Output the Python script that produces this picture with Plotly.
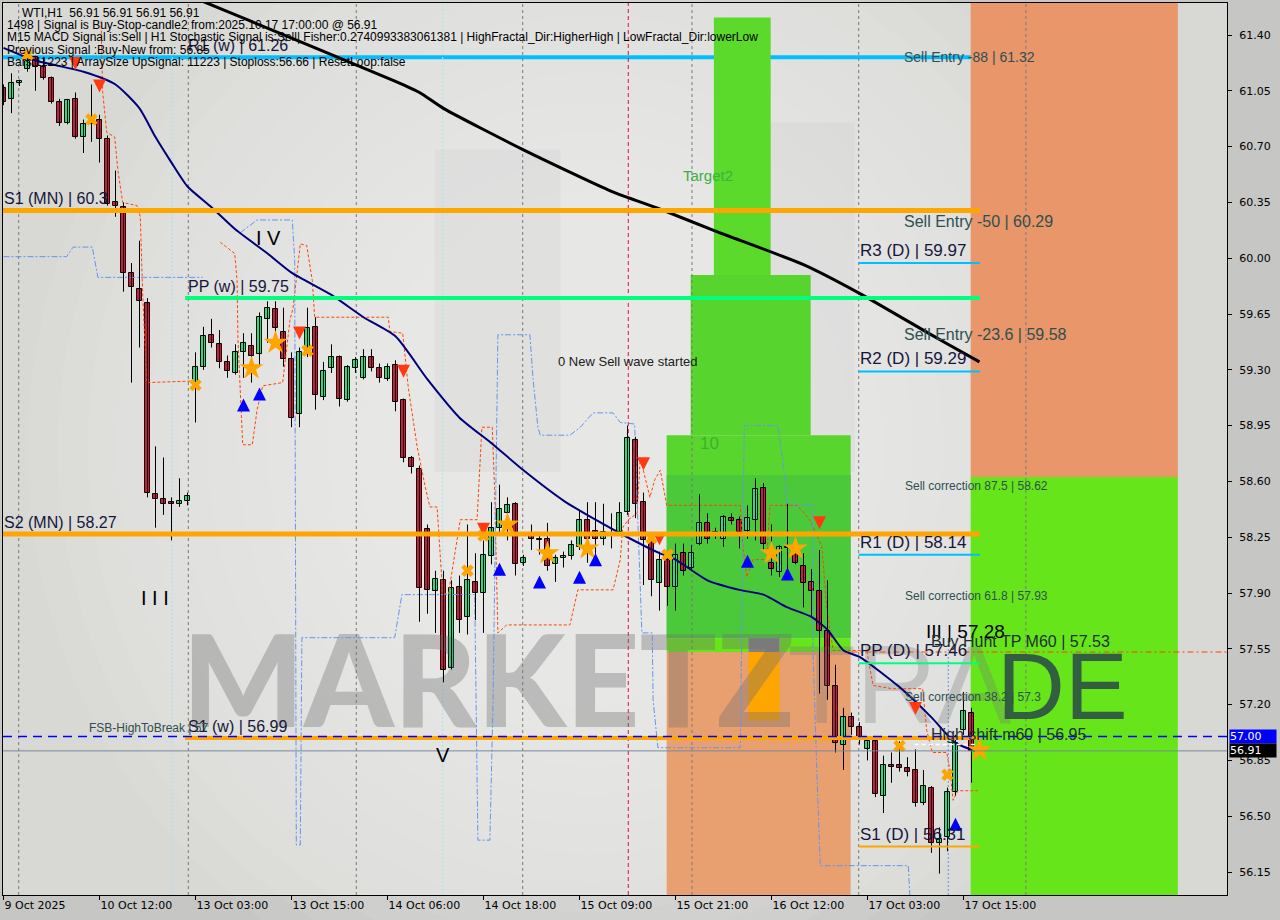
import plotly.graph_objects as go

# ---------------- data ----------------
opens = [61.07, 61.00, 61.10, 61.19, 61.26, 61.20, 61.13, 60.98, 60.85, 61.00,
         60.76, 60.86, 60.87, 60.75, 60.35, 60.32, 59.91, 59.81, 59.72, 58.52,
         58.49, 58.47, 58.46, 58.48, 59.22, 59.32, 59.52, 59.46, 59.35, 59.28,
         59.41, 59.45, 59.40, 59.62, 59.68, 59.54, 59.37, 59.02, 59.41, 59.57,
         59.13, 59.31, 59.38, 59.11, 59.31, 59.25, 59.38, 59.31, 59.24, 59.33,
         59.11, 58.75, 58.68, 58.30, 57.91, 57.98, 57.43, 57.94, 57.75, 57.97,
         57.90, 58.13, 58.31, 58.40, 58.46, 58.09, 58.26, 58.24, 58.24, 58.08,
         58.12, 58.13, 58.19, 58.36, 58.29, 58.24, 58.26, 58.28, 58.41, 58.86,
         58.47, 58.22, 57.96, 58.11, 57.94, 58.15, 58.06, 58.21, 58.34, 58.28,
         58.24, 58.37, 58.36, 58.29, 58.36, 58.56, 58.09, 58.03, 58.19, 58.15,
         58.07, 57.97, 57.91, 57.66, 57.32, 56.95, 57.12, 57.06, 56.92, 56.97,
         56.63, 56.82, 56.82, 56.80, 56.79, 56.58, 56.68, 56.33, 56.37, 56.65,
         57.04, 57.15, 56.91]
highs = [61.09, 61.16, 61.12, 61.29, 61.27, 61.26, 61.14, 61.00, 61.00, 61.04,
         60.87, 61.09, 60.90, 60.77, 60.55, 60.35, 59.97, 60.11, 59.75, 58.82,
         58.75, 58.50, 58.62, 58.53, 59.41, 59.57, 59.62, 59.55, 59.39, 59.46,
         59.53, 59.53, 59.66, 59.73, 59.73, 59.69, 59.41, 59.44, 59.69, 59.63,
         59.35, 59.46, 59.39, 59.33, 59.38, 59.43, 59.43, 59.34, 59.34, 59.36,
         59.12, 58.76, 58.70, 58.33, 58.04, 58.04, 57.98, 58.01, 58.33, 58.15,
         58.23, 58.47, 58.58, 58.50, 58.47, 58.14, 58.33, 58.26, 58.34, 58.14,
         58.16, 58.23, 58.42, 58.47, 58.47, 58.46, 58.40, 58.47, 58.95, 58.88,
         58.53, 58.23, 58.16, 58.14, 58.21, 58.21, 58.20, 58.52, 58.40, 58.31,
         58.39, 58.40, 58.38, 58.45, 58.62, 58.59, 58.33, 58.20, 58.46, 58.18,
         58.15, 58.05, 58.17, 57.98, 57.45, 57.18, 57.15, 57.09, 56.97, 56.99,
         56.88, 56.90, 56.97, 56.87, 56.92, 56.79, 56.69, 56.43, 56.68, 57.01,
         57.28, 57.18, 56.91]
lows = [60.96, 60.91, 61.08, 61.17, 61.05, 61.12, 60.97, 60.83, 60.84, 60.75,
        60.66, 60.73, 60.60, 60.33, 60.26, 59.79, 59.22, 59.44, 58.50, 58.31,
        58.39, 58.23, 58.44, 58.45, 58.97, 59.30, 59.44, 59.31, 59.25, 59.27,
        59.25, 59.22, 59.33, 59.47, 59.47, 59.32, 58.94, 58.94, 59.38, 59.05,
        59.11, 59.28, 59.07, 59.10, 59.28, 59.24, 59.29, 59.22, 59.23, 59.04,
        58.72, 58.65, 57.72, 57.77, 57.65, 57.34, 57.42, 57.65, 57.64, 57.73,
        57.65, 58.08, 58.28, 58.23, 58.01, 58.07, 58.17, 58.14, 58.04, 57.97,
        58.06, 58.11, 58.17, 58.09, 58.14, 58.20, 58.18, 58.26, 58.39, 58.37,
        57.95, 57.88, 57.79, 57.82, 57.79, 58.01, 58.04, 58.20, 58.21, 58.24,
        58.19, 58.33, 58.18, 58.24, 58.23, 58.17, 58.01, 58.00, 58.00, 58.08,
        57.81, 57.75, 57.27, 57.23, 56.90, 56.79, 57.01, 56.95, 56.85, 56.62,
        56.52, 56.71, 56.78, 56.75, 56.56, 56.57, 56.27, 56.14, 56.28, 56.63,
        57.01, 56.71, 56.91]
closes = [60.98, 61.10, 61.11, 61.24, 61.20, 61.13, 60.98, 60.85, 60.99, 60.76,
          60.84, 60.84, 60.75, 60.34, 60.33, 59.91, 59.82, 59.73, 58.53, 58.49,
          58.46, 58.46, 58.48, 58.51, 59.32, 59.51, 59.47, 59.35, 59.29, 59.41,
          59.47, 59.39, 59.63, 59.69, 59.56, 59.37, 59.00, 59.41, 59.56, 59.14,
          59.29, 59.38, 59.12, 59.32, 59.36, 59.38, 59.31, 59.25, 59.32, 59.10,
          58.75, 58.69, 57.93, 57.92, 57.99, 57.42, 57.93, 57.73, 57.98, 57.90,
          58.14, 58.31, 58.43, 58.45, 58.08, 58.12, 58.24, 58.23, 58.07, 58.12,
          58.13, 58.20, 58.36, 58.24, 58.24, 58.28, 58.27, 58.40, 58.87, 58.46,
          58.23, 57.98, 58.11, 57.94, 58.14, 58.04, 58.15, 58.34, 58.24, 58.27,
          58.38, 58.35, 58.28, 58.37, 58.55, 58.21, 58.05, 58.19, 58.18, 58.09,
          57.96, 57.91, 57.66, 57.32, 56.96, 57.12, 57.06, 57.00, 56.97, 56.64,
          56.82, 56.81, 56.80, 56.78, 56.58, 56.69, 56.33, 56.36, 56.65, 56.96,
          57.16, 56.91, 56.91]

time_tick_idx = [0, 12, 24, 36, 48, 60, 72, 84, 96, 108, 120]
time_tick_text = ["9 Oct 2025", "10 Oct 12:00", "13 Oct 03:00", "13 Oct 15:00",
                  "14 Oct 06:00", "14 Oct 18:00", "15 Oct 09:00", "15 Oct 21:00",
                  "16 Oct 12:00", "17 Oct 03:00", "17 Oct 15:00"]
price_ticks = [56.15, 56.50, 56.85, 57.20, 57.55, 57.90, 58.25, 58.60, 58.95,
               59.30, 59.65, 60.00, 60.35, 60.70, 61.05, 61.40]

# moving averages (knots)
fast_ma_idx = [0, 4, 10, 14, 17, 19, 21, 23, 26, 29, 33, 36, 41, 45, 49, 53, 57, 61,
               65, 70, 74, 78, 82, 84, 88, 92, 95, 98, 101, 103, 105, 107, 112, 116, 119, 122]
fast_ma = [61.32, 61.24, 61.17, 61.09, 60.94, 60.76, 60.60, 60.45, 60.32, 60.18, 60.03,
           59.91, 59.77, 59.63, 59.51, 59.24, 59.00, 58.84, 58.67, 58.48, 58.36, 58.25,
           58.15, 58.11, 57.98, 57.92, 57.89, 57.81, 57.75, 57.67, 57.54, 57.50, 57.31,
           57.12, 56.96, 56.90]
slow_ma_idx = [20, 24, 37, 49, 52, 55, 65, 76, 82, 89, 100, 107, 117, 122]
slow_ma = [61.71, 61.63, 61.36, 61.11, 61.04, 60.94, 60.68, 60.42, 60.31, 60.17,
           59.96, 59.78, 59.49, 59.35]

# stepped channel lines
red_step_idx = [12.2, 12.4, 12.9, 13.9, 14.3, 14.9, 16.7, 17.1, 17.4, 17.9, 23.7, None,
                27.1, 28.9, 29.2, 29.3, 29.9, 31.1, 31.7, 32.4, 34.9, 35.4, 35.8, 36.2,
                37.1, 37.9, 38.6, 38.9, 48.1, 48.3, 49.9, 50.6, 51.7, 52.7, 53.3, 54.2,
                54.9, 55.6, 57.1, 59.2, 59.8, 61.1, 61.4, 61.8, 62.9, 70.8, 71.8, 76.2,
                77.1, 77.4, 78.1, 79.2, 79.6, 80.8, 81.4, 82.1, 82.9, 92.1, 92.4, 92.9,
                93.7, 95.4, 95.8, 99.2, 100.8, 102.3, 102.9, 103.7, 107.9, 108.7, 111.1,
                114.9, 115.4, 116.1, 117.9, 118.3, 118.7, 119.3, 121.8]
red_step = [61.49, 61.04, 60.79, 60.76, 60.55, 60.35, 60.33, 60.26, 59.78, 59.22, 59.23, None,
            60.10, 60.03, 59.86, 59.50, 58.83, 58.83, 59.05, 59.20, 59.22, 59.42, 59.61, 59.69,
            60.09, 60.08, 59.86, 59.63, 59.63, 59.54, 59.53, 59.19, 58.82, 58.57, 58.44, 58.44,
            57.90, 57.89, 58.36, 58.36, 58.94, 58.94, 58.53, 57.65, 57.70, 57.70, 57.92, 57.92,
            58.11, 58.31, 58.36, 58.40, 58.75, 58.50, 58.61, 58.67, 58.45, 58.45, 58.21, 58.00,
            58.11, 58.11, 58.45, 58.45, 58.36, 58.19, 57.81, 57.54, 57.54, 57.32, 57.30,
            57.30, 57.04, 56.90, 56.90, 56.79, 56.60, 56.66, 56.66]
blue_step_idx = [0, 7.9, 8.7, 11.1, 11.8, 24.9, None,
                 29.6, 31.7, 36.1, 36.4, 36.6, 37.1, 37.3, 48.9, 49.8, 58.9, 59.3, 60.8,
                 61.2, 61.7, 61.8, 65.8, 66.2, 66.8, 67.1, 70.8, 72.1, 73.7, 76.2, 77.1,
                 78.9, 79.2, 79.8, 81.1, 81.2, 81.8, 92.1, 92.6, 96.8, 97.7, 97.9, 101.1,
                 101.2, 101.7, 102.1, 113.1, 113.3]
blue_step = [60.01, 60.01, 60.07, 60.07, 59.88, 59.88, None,
             60.16, 60.24, 60.24, 59.99, 56.32, 56.32, 57.62, 57.62, 57.89, 57.89, 56.35, 56.35,
             57.23, 58.94, 59.52, 59.52, 59.24, 58.94, 58.89, 58.89, 58.94, 59.03, 59.03, 58.97,
             58.96, 58.48, 57.65, 57.65, 57.23, 56.93, 56.93, 58.95, 58.95, 58.61, 58.46, 58.45,
             57.52, 56.73, 56.19, 56.19, 56.00]

# signal markers
star_idx = [31, 34, 63, 68, 73, 96, 99, 122]
star_px = [59.31, 59.47, 58.33, 58.15, 58.18, 58.15, 58.18, 56.915]
cross_idx = [3, 11, 24, 38, 58, 60, 81, 83, 112, 118]
cross_px = [61.275, 60.87, 59.205, 59.42, 58.04, 58.26, 58.245, 58.14, 56.94, 56.76]
sell_arrow_idx = [9, 12, 37, 50, 60, 80, 82, 102, 114]
sell_arrow_px = [61.18, 61.04, 59.49, 59.25, 58.26, 58.67, 58.20, 58.30, 57.135]
buy_arrow_idx = [30, 32, 62, 67, 72, 74, 93, 98, 119]
buy_arrow_px = [59.12, 59.19, 58.09, 58.01, 58.04, 58.15, 58.14, 58.06, 56.49]

# pivot / signal levels
level_r1_w, level_pp_w, level_s1_w = 61.26, 59.75, 56.99
level_s1_mn, level_s2_mn = 60.30, 58.27
level_r3_d, level_r2_d, level_r1_d, level_pp_d, level_s1_d = 59.97, 59.29, 58.14, 57.46, 56.31
sell_entry_levels = [61.32, 60.29, 59.58]
sell_entry_text = ["Sell Entry -88 | 61.32", "Sell Entry -50 | 60.29", "Sell Entry -23.6 | 59.58"]
sell_corr_levels = [58.62, 57.93, 57.30]
sell_corr_text = ["Sell correction 87.5 | 58.62", "Sell correction 61.8 | 57.93",
                  "Sell correction 38.2 | 57.3"]
buy_hunt_tp = 57.53
high_shift = 56.95
fsb_high = 57.00
last_price = 56.91

header_lines = [
    "WTI,H1  56.91 56.91 56.91 56.91",
    "1498 | Signal is Buy-Stop-candle2 from:2025.10.17 17:00:00 @ 56.91",
    "M15 MACD Signal is:Sell | H1 Stochastic Signal is:Sell| Fisher:0.2740993383061381 | HighFractal_Dir:HigherHigh | LowFractal_Dir:lowerLow",
    "Previous Signal :Buy-New from: 56.85",
    "Bars:11223 | ArraySize UpSignal: 11223 | Stoploss:56.66 | ResetLoop:false",
]

# ---------------- figure ----------------
UP = "#1AE67A"
DN = "#DC143C"
X_MIN, X_MAX = -0.0625, 152.94
Y_MIN, Y_MAX = 56.006, 61.601
LEVEL_END = 122.06
TXT = "#16163a"
FONT = "Liberation Sans, Arial, sans-serif"

idx = list(range(len(opens)))
MIN_BODY = 0.006
body_base, body_h, body_col = [], [], []
for o, c in zip(opens, closes):
    d = abs(c - o)
    h = max(d, MIN_BODY)
    body_base.append(min(o, c) - (h - d) / 2)
    body_h.append(h)
    body_col.append(UP if c >= o else DN)

wick_x, wick_y = [], []
for i, h, l in zip(idx, highs, lows):
    wick_x += [i, i, None]
    wick_y += [l, h, None]

fig = go.Figure()

# watermark (drawn first so it sits under the candles)
fig.add_trace(go.Scatter(x=[60.6], y=[57.26], mode="text", text=["MARKETZ"],
                         textposition="middle center", hoverinfo="skip",
                         textfont=dict(size=128, color="rgba(110,110,110,0.36)",
                                       family="Lato, Liberation Sans, sans-serif",
                                       weight=900)))
fig.add_trace(go.Scatter(x=[98.0], y=[57.26], mode="text", text=["TRA"],
                         textposition="middle right", hoverinfo="skip",
                         textfont=dict(size=112, color="rgba(120,120,120,0.30)", family=FONT)))
fig.add_trace(go.Scatter(x=[124.2], y=[57.26], mode="text", text=["DE"],
                         textposition="middle right", hoverinfo="skip",
                         textfont=dict(size=94, color="rgba(40,70,70,0.85)", family=FONT)))

# stepped channel lines
fig.add_trace(go.Scatter(x=red_step_idx, y=red_step, mode="lines", hoverinfo="skip",
                         line=dict(color="#FF4500", width=1, dash="3px,2px")))
fig.add_trace(go.Scatter(x=blue_step_idx, y=blue_step, mode="lines", hoverinfo="skip",
                         line=dict(color="#6495ED", width=1, dash="6px,2px,2px,2px")))

# candles
fig.add_trace(go.Scatter(x=wick_x, y=wick_y, mode="lines", hoverinfo="skip",
                         line=dict(color="black", width=1)))
fig.add_trace(go.Bar(x=idx, y=body_h, base=body_base, width=0.66, hoverinfo="skip",
                     marker=dict(color=body_col, line=dict(color="black", width=1))))

# moving averages
fig.add_trace(go.Scatter(x=fast_ma_idx, y=fast_ma, mode="lines", hoverinfo="skip",
                         line=dict(color="#00007A", width=2, shape="spline", smoothing=0.6)))
fig.add_trace(go.Scatter(x=slow_ma_idx, y=slow_ma, mode="lines", hoverinfo="skip",
                         line=dict(color="black", width=3, shape="spline", smoothing=0.6)))

# markers
fig.add_trace(go.Scatter(x=star_idx, y=star_px, mode="markers", hoverinfo="skip",
                         marker=dict(symbol="star", size=18, color="#FFA500", line=dict(width=0))))
fig.add_trace(go.Scatter(x=cross_idx, y=cross_px, mode="markers", hoverinfo="skip",
                         marker=dict(symbol="x", size=11, color="#FFA500", line=dict(width=0))))
fig.add_trace(go.Scatter(x=sell_arrow_idx, y=sell_arrow_px, mode="markers", hoverinfo="skip",
                         marker=dict(symbol="arrow-down", size=13, color="#FF3A10", line=dict(width=0))))
fig.add_trace(go.Scatter(x=buy_arrow_idx, y=buy_arrow_px, mode="markers", hoverinfo="skip",
                         marker=dict(symbol="arrow-up", size=13, color="#0000FF", line=dict(width=0))))

# ---------------- shapes ----------------
shapes = []


def rect(x0, x1, y0, y1, color, layer="below", opacity=1.0):
    shapes.append(dict(type="rect", xref="x", yref="y", x0=x0, x1=x1, y0=y0, y1=y1,
                       fillcolor=color, opacity=opacity, line=dict(width=0), layer=layer))


def hline(y, x0, x1, color, width, dash="solid", layer="above"):
    shapes.append(dict(type="line", xref="x", yref="y", x0=x0, x1=x1, y0=y, y1=y,
                       line=dict(color=color, width=width, dash=dash), layer=layer))


def vline(x, color, dash, y0=Y_MIN, y1=Y_MAX, width=1):
    shapes.append(dict(type="line", xref="x", yref="y", x0=x, x1=x, y0=y0, y1=y1,
                       line=dict(color=color, width=width, dash=dash), layer="below"))


# soft radial light in the middle of the chart (many faint layers -> smooth)
n_glow = 12
for k in range(n_glow):
    f = k / (n_glow - 1)
    shapes.append(dict(type="circle", xref="paper", yref="paper",
                       x0=0.02 + 0.27 * f, x1=0.94 - 0.27 * f,
                       y0=-0.15 + 0.36 * f, y1=1.15 - 0.36 * f,
                       fillcolor="white", opacity=0.06, line=dict(width=0), layer="below"))

# faint logo blocks
rect(53.9, 69.6, 58.66, 60.68, "rgba(170,170,170,0.11)")
rect(91.1, 106.4, 58.66, 60.85, "rgba(170,170,170,0.11)")

# R1 (w) line sits under the zone boxes
hline(level_r1_w, X_MIN, LEVEL_END, "#00BFFF", 4, layer="below")

# zone boxes
rect(88.8, 95.9, 59.895, 61.51, "#5CDA2B")
rect(85.9, 100.9, 58.89, 59.895, "#57D52E")
rect(82.9, 105.9, 57.617, 58.89, "#58D62D")
rect(82.9, 105.9, 57.617, 58.64, "#4BC93B")
rect(82.9, 93.1, 57.53, 57.617, "#66E619")
rect(97.0, 105.9, 57.53, 57.617, "#66E619")
rect(93.1, 97.0, 57.53, 57.617, "#808080")
rect(82.9, 105.9, 55.9, 57.53, "#E8A070")
rect(93.1, 97.0, 57.10, 57.53, "#FFA500")
rect(120.9, 146.8, 58.628, 61.8, "#E8966A")
rect(120.9, 146.8, 55.9, 58.628, "#66E61A")

# vertical separators
for sx in [1.9, 23.1, 44.1, 64.9, 86.06, 106.9, 127.8]:
    vline(sx, "#7a7a7a", "3px,3px")
for sx in [21.1, 54.9]:
    vline(sx, "#A8E4EE", "2px,2px")
vline(78.1, "#DC143C", "4px,3px")
vline(118.1, "#6495ED", "2px,2px", y0=Y_MIN, y1=57.6)

# pivot lines
hline(level_s1_mn, X_MIN, LEVEL_END, "#FFA500", 5)
hline(level_s2_mn, X_MIN, LEVEL_END, "#FFA500", 5)
hline(level_pp_w, 22.7, LEVEL_END, "#00FF7F", 4)
hline(level_s1_w, 22.7, LEVEL_END, "#FFA500", 4)
for lv in [level_r3_d, level_r2_d, level_r1_d]:
    hline(lv, 106.9, LEVEL_END, "#00BFFF", 2)
hline(level_pp_d, 106.9, LEVEL_END, "#00FF7F", 2)
hline(level_s1_d, 106.9, LEVEL_END, "#FFA500", 2)
hline(buy_hunt_tp, 106.0, X_MAX, "#FF4500", 1, dash="6px,3px,2px,3px")
hline(high_shift, 113.9, 121.5, "white", 1.5, dash="4px,3px")
hline(fsb_high, X_MIN, X_MAX, "#0000FF", 1.5, dash="9px,6px")
hline(last_price, X_MIN, X_MAX, "#778899", 1)

# ---------------- annotations ----------------
ann = []


def label(text, x, y, size, color=TXT, yanchor="bottom", xanchor="left", yshift=0, family=FONT):
    ann.append(dict(text=text, x=x, y=y, xref="x", yref="y", showarrow=False,
                    xanchor=xanchor, yanchor=yanchor, yshift=yshift, borderpad=0,
                    font=dict(size=size, color=color, family=family)))


label("S1 (MN) | 60.3", X_MIN, level_s1_mn, 16, yshift=2)
label("S2 (MN) | 58.27", X_MIN, level_s2_mn, 16, yshift=2)
label("R1 (w) | 61.26", 22.9, level_r1_w, 16, yshift=2)
label("PP (w) | 59.75", 22.9, level_pp_w, 16, yshift=2)
label("S1 (w) | 56.99", 22.9, level_s1_w, 16, yshift=2)
for t, lv in zip(["R3 (D) | 59.97", "R2 (D) | 59.29", "R1 (D) | 58.14",
                  "PP (D) | 57.46", "S1 (D) | 56.31"],
                 [level_r3_d, level_r2_d, level_r1_d, level_pp_d, level_s1_d]):
    label(t, 106.9, lv, 17, yshift=2)
for t, lv, sz in zip(sell_entry_text, sell_entry_levels, [14, 16, 16]):
    label(t, 112.5, lv, sz, color="#2F4F4F", yanchor="top")
for t, lv in zip(sell_corr_text, sell_corr_levels):
    label(t, 112.6, lv, 12, color="#2F4F4F", yanchor="top")
label("III | 57.28", 115.2, 57.585, 19, color="black")
label("Buy Hunt TP M60 | 57.53", 115.8, buy_hunt_tp, 16, color="#1f2f2f", yshift=1)
label("High shift m60 | 56.95", 115.8, high_shift, 16, color="#1f2f2f", yshift=1)
label("FSB-HighToBreak | 57", 10.6, fsb_high, 12, color="#2F4F4F", yshift=1)
label("0 New Sell wave started", 69.2, 59.355, 13, color="#202020", yanchor="middle")
label("Target2", 88.1, 60.52, 15, color="#3CB043", yanchor="middle", xanchor="center")
label("10", 88.2, 58.84, 17, color="rgba(40,150,40,0.6)", yanchor="middle", xanchor="center")
label("I V", 33.1, 60.13, 20, color="black", yanchor="middle", xanchor="center")
label("V", 54.9, 56.884, 20, color="black", yanchor="middle", xanchor="center")
label("I I I", 18.9, 57.87, 20, color="black", yanchor="middle", xanchor="center")

header_y_px = [12.5, 25, 37.3, 49.6, 61.8]
for k, line_txt in enumerate(header_lines):
    px_x = 21 if k == 0 else 6
    ann.append(dict(text=line_txt, xref="paper", yref="paper",
                    x=(px_x - 3) / 1224, y=1 - (header_y_px[k] - 3) / 892,
                    xanchor="left", yanchor="middle", showarrow=False, borderpad=0,
                    font=dict(size=12, color="black", family=FONT)))

# price boxes on the axis
for val, bg in [(fsb_high, "#0000FF"), (last_price, "#000000")]:
    ann.append(dict(text=f"{val:.2f}", xref="paper", yref="y", x=1.0, y=val,
                    xanchor="left", yanchor="middle", xshift=2, showarrow=False,
                    bgcolor=bg, borderpad=0, width=46, align="left",
                    font=dict(size=11, color="white", family="DejaVu Sans, sans-serif")))

fig.update_layout(
    width=1280, height=920,
    margin=dict(l=3, r=53, t=3, b=25),
    paper_bgcolor="#C6C6C4",
    plot_bgcolor="#D8D8D5",
    template="none",
    showlegend=False,
    shapes=shapes,
    annotations=ann,
    font=dict(family=FONT, color="black"),
    xaxis=dict(range=[X_MIN, X_MAX], showgrid=False, zeroline=False,
               tickvals=time_tick_idx, ticktext=time_tick_text,
               ticks="outside", ticklen=4, tickcolor="black",
               ticklabelposition="outside right",
               showline=True, linecolor="black", linewidth=1, mirror=True,
               tickfont=dict(family="DejaVu Sans, sans-serif", size=11, color="black")),
    yaxis=dict(range=[Y_MIN, Y_MAX], side="right", showgrid=False, zeroline=False,
               tickvals=price_ticks, ticktext=[f"{v:.2f}" for v in price_ticks],
               ticks="outside", ticklen=4, tickcolor="black", ticklabelstandoff=5,
               showline=True, linecolor="black", linewidth=1, mirror=True,
               tickfont=dict(family="DejaVu Sans, sans-serif", size=11, color="black")),
    bargap=0,
)

fig.write_html("out.html", config={"displayModeBar": False},
               post_script="document.body.style.margin='0';")
